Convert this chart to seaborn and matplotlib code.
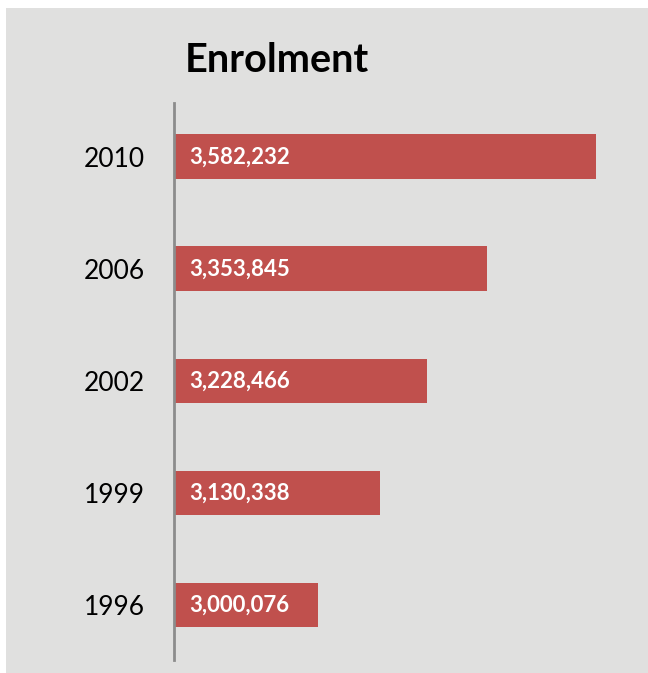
import matplotlib
matplotlib.use("Agg")
import matplotlib.pyplot as plt
import seaborn as sns
import pandas as pd
from matplotlib.patches import Rectangle

years = ["2010", "2006", "2002", "1999", "1996"]
enrolment = [3582232, 3353845, 3228466, 3130338, 3000076]
x_min, x_max = 2700000, 3600000

df = pd.DataFrame({"year": years, "enrolment": enrolment})

sns.set_theme(style="white")
plt.rcParams["font.family"] = ["Lato", "DejaVu Sans"]

fig = plt.figure(figsize=(6.48, 6.73), dpi=100)
fig.patch.set_facecolor("white")
# grey chart panel
fig.patches.append(Rectangle((6 / 648, 0), 1 - 6 / 648, 1 - 8 / 673,
                             transform=fig.transFigure, facecolor="#E0E0DF",
                             edgecolor="none", zorder=-10))

ax = fig.add_axes([174 / 648, 13 / 673, (605 - 174) / 648, (570 - 13) / 673])
ax.set_facecolor("none")

sns.barplot(data=df, x="enrolment", y="year", orient="h", order=years,
            color="#C0504D", saturation=1, width=0.4, linewidth=0, ax=ax)

ax.set_xlim(x_min, x_max)
ax.set_ylim(4.49, -0.48)
ax.set_xlabel("")
ax.set_ylabel("")
ax.set_xticks([])
ax.tick_params(axis="y", length=0, pad=21, labelsize=19, labelcolor="black")
for s in ["top", "right", "bottom"]:
    ax.spines[s].set_visible(False)
ax.spines["left"].set_color("#8C8C8C")
ax.spines["left"].set_linewidth(2)

for i, v in enumerate(enrolment):
    ax.annotate(f"{v:,}", xy=(0, i), xycoords=ax.get_yaxis_transform(),
                xytext=(15, 0), textcoords="offset pixels",
                ha="left", va="center", color="white",
                fontsize=16, fontweight="bold")

fig.text(185 / 648, 1 - 60 / 673, "Enrolment", ha="left", va="center",
         fontsize=28.5, fontweight="bold", color="black")

fig.savefig("out.png", dpi=100)
